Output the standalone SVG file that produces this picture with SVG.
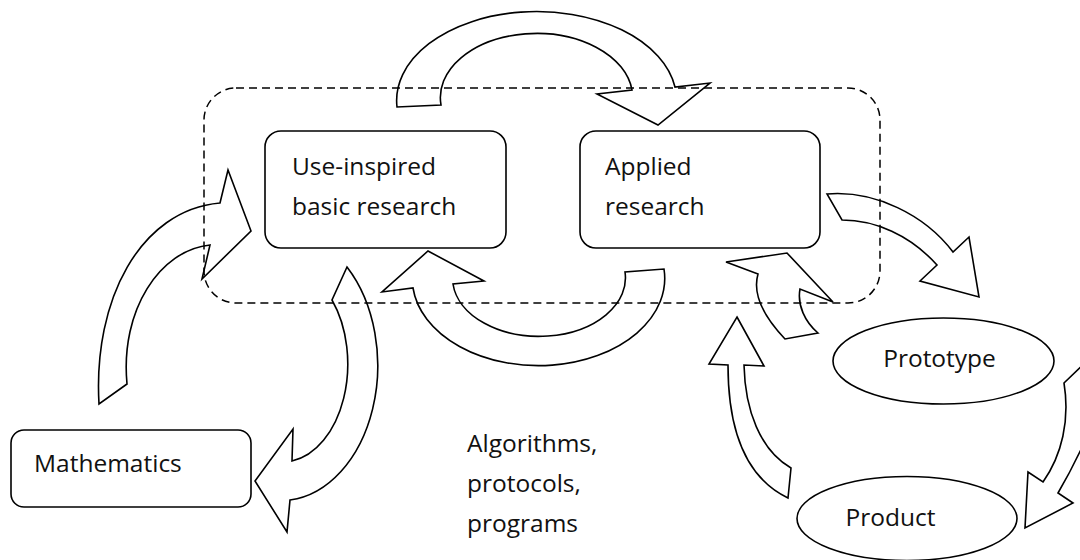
<svg xmlns="http://www.w3.org/2000/svg" width="1080" height="560" viewBox="0 0 1080 560">
<style>
.bg{fill:#fff}
.grp{fill:none;stroke:#000;stroke-width:1.5;stroke-dasharray:8 5}
.box{fill:#fff;stroke:#000;stroke-width:1.6}
.arr{fill:none;stroke:#000;stroke-width:1.6;stroke-linejoin:miter}
.t{font-family:"Open Sans","Liberation Sans",sans-serif;font-size:24.5px;fill:#111}
</style>
<rect class="bg" x="0" y="0" width="1080" height="560"/>
<rect id="group-boundary" class="grp" x="204" y="88" width="676" height="215" rx="32" ry="32"/>
<g id="connectors">
  <path class="arr" d="M397,107 A140,89 0 0 1 675,87 L710,83 L658,125 L597,94 L632,90 A96,64 0 0 0 441,105 Z"/>
  <path class="arr" d="M428,251 L484,281 L453,284 A86,58 0 0 0 625,272 L664,269 A126,87 0 0 1 413,288 L382,292 Z"/>
  <path class="arr" d="M99,404 C93,300 140,210 220,203 L228,170 L251,231 L202,279 L210,245 C160,250 120,310 127,384 Z"/>
  <path class="arr" d="M347,267 L332,300 A65,98 0 0 1 292,461 L293,429 L255,481 L287,532 L290,500 A97,135 0 0 0 347,267 Z"/>
  <path class="arr" d="M827,194 C875,190 925,215 953,252 L969,237 L979,297 L920,281 L937,265 C910,235 875,220 842,220 Z"/>
  <path class="arr" d="M785,339 C765,318 752,295 758,274 L726,262 L787,253 L833,302 L800,289 C797,305 805,322 818,333 Z"/>
  <path class="arr" d="M737,317 L764,366 L744,365 C745,410 760,450 791,468 L788,498 C740,475 728,420 728,365 L709,364 Z"/>
  <path class="arr" d="M1090,358 L1064,383 C1070,420 1062,455 1043,482 L1028,472 L1025,528 L1073,503 L1058,493 C1068,476 1077,460 1092,425 L1100,350 Z"/>
</g>
<g id="node-use-inspired">
  <rect class="box" x="265" y="131" width="241" height="117" rx="16" ry="16"/>
  <text class="t" x="292" y="175">Use-inspired</text>
  <text class="t" x="292" y="215">basic research</text>
</g>
<g id="node-applied">
  <rect class="box" x="580" y="131" width="240" height="117" rx="16" ry="16"/>
  <text class="t" x="605" y="175">Applied</text>
  <text class="t" x="605" y="215">research</text>
</g>
<g id="node-mathematics">
  <rect class="box" x="11" y="430" width="240" height="77" rx="13" ry="13"/>
  <text class="t" x="34" y="472">Mathematics</text>
</g>
<g id="node-prototype">
  <ellipse class="box" cx="943.5" cy="361" rx="110.5" ry="43"/>
  <text class="t" x="939.5" y="367" text-anchor="middle">Prototype</text>
</g>
<g id="node-product">
  <ellipse class="box" cx="907" cy="518.5" rx="110" ry="42"/>
  <text class="t" x="890.5" y="526" text-anchor="middle">Product</text>
</g>
<g id="label-algorithms">
  <text class="t" x="467" y="452">Algorithms,</text>
  <text class="t" x="467" y="492">protocols,</text>
  <text class="t" x="467" y="532">programs</text>
</g>
</svg>
